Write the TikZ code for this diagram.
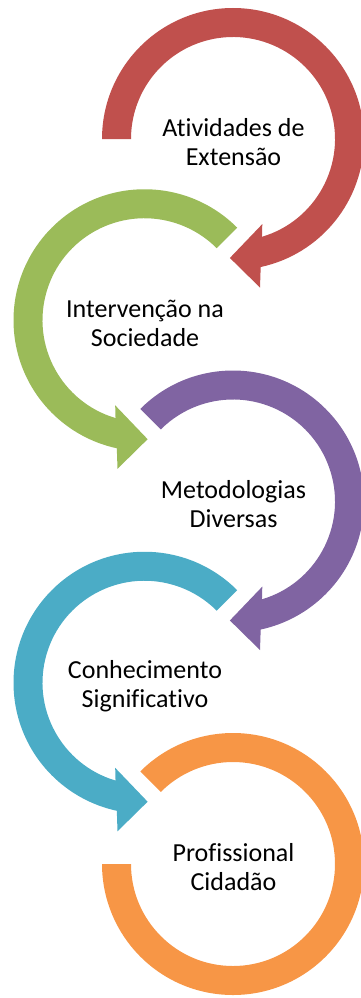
\documentclass[tikz,border=0pt]{standalone}
\usepackage{fontspec}
\setmainfont[Ligatures=NoCommon]{Carlito}
\definecolor{ared}{HTML}{C0504D}
\definecolor{agreen}{HTML}{9BBB59}
\definecolor{apurple}{HTML}{8064A2}
\definecolor{acyan}{HTML}{4BACC6}
\definecolor{aorange}{HTML}{F79646}
\begin{document}
\begin{tikzpicture}[x=1pt,y=1pt, line join=round,
		lbl/.style={align=center, font=\fontsize{26}{29}\selectfont, inner sep=0pt}]
		\def\Ro{131} \def\Ri{102}
		\useasboundingbox (0,0) rectangle (360,-998);
		% circular arrows, right ones plain, left ones mirrored
		\foreach \cx/\cy/\s/\a/\col in {233/139/1/180/ared, 144.5/320.25/-1/135/agreen, 233/501.5/1/135/apurple, 144.5/682.75/-1/135/acyan}
		\fill[\col, shift={(\cx,-\cy)}, xscale=\s] (\a:\Ro) arc[start angle=\a, end angle=-77.8, radius=\Ro]
			-- (-79.7:151) -- (-91.5:119) -- (-71:90) -- (-73.5:\Ri)
			arc[start angle=-73.5, end angle=\a, radius=\Ri] -- cycle;
		% last one, no head
		\fill[aorange, shift={(233,-864)}] (135:\Ro) arc[start angle=135, end angle=-180, radius=\Ro]
			-- (180:\Ri) arc[start angle=-180, end angle=135, radius=\Ri] -- cycle;
		\node[lbl] (ext) at (233.5,-142) {Atividades de\\Extensão};
		\node[lbl] (soc) at (145,-323.5) {Intervenção na\\Sociedade};
		\node[lbl] (met) at (233.5,-504.5) {Metodologias\\Diversas};
		\node[lbl] (con) at (145,-686) {Conhecimento\\Significativo};
		\node[lbl] (pro) at (233.5,-867) {Profissional\\Cidadão};
\end{tikzpicture}
\end{document}
